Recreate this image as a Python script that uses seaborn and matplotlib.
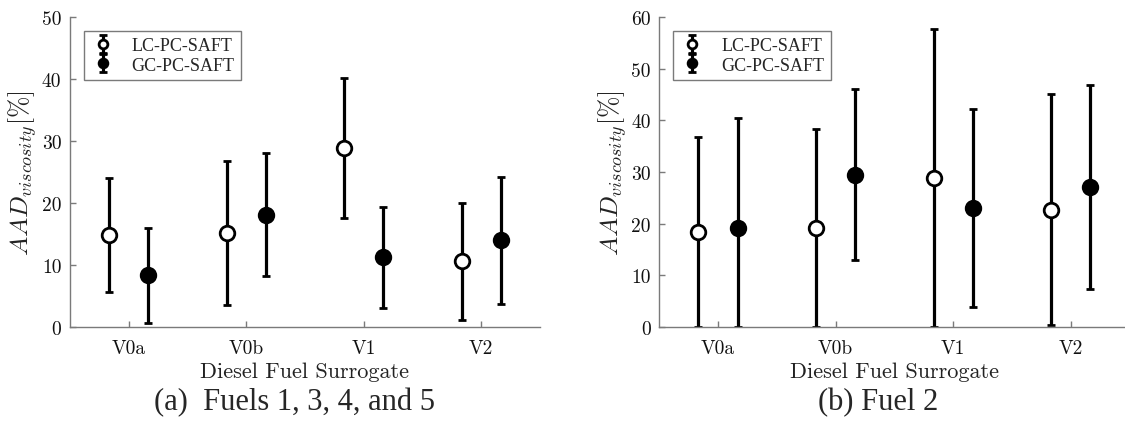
import numpy as np
import matplotlib
matplotlib.use("Agg")
import matplotlib.pyplot as plt
import seaborn as sns

# surrogates
cats = ['V0a', 'V0b', 'V1', 'V2']

# (a) Fuels 1, 3, 4, 5
lc_a = [14.9, 15.1, 28.9, 10.6]
lc_a_lo = [5.7, 3.5, 17.6, 1.1]
lc_a_hi = [24.0, 26.7, 40.2, 20.0]
gc_a = [8.3, 18.0, 11.2, 14.0]
gc_a_lo = [0.7, 8.2, 3.0, 3.7]
gc_a_hi = [15.9, 28.0, 19.4, 24.2]

# (b) Fuel 2
lc_b = [18.4, 19.1, 28.8, 22.7]
lc_b_lo = [0.0, 0.0, 0.0, 0.3]
lc_b_hi = [36.8, 38.4, 57.7, 45.1]
gc_b = [19.1, 29.5, 23.0, 27.1]
gc_b_lo = [0.0, 12.9, 3.9, 7.4]
gc_b_hi = [40.5, 46.1, 42.2, 46.8]

sns.set_style("white")
plt.rcParams['font.family'] = ['Liberation Serif', 'DejaVu Serif']
plt.rcParams['mathtext.fontset'] = 'cm'
plt.rcParams['axes.unicode_minus'] = False

fig = plt.figure(figsize=(11.25, 4.27), dpi=100)
ax1 = fig.add_axes([0.062, 0.232, 0.418, 0.726])
ax2 = fig.add_axes([0.586, 0.232, 0.418, 0.726])

axis_col = '#7a7a7a'
x = np.arange(1, len(cats) + 1)
off = 1 / 6


def panel(ax, lc, lc_lo, lc_hi, gc, gc_lo, gc_hi, ymax):
    lc = np.array(lc); gc = np.array(gc)
    ax.errorbar(x - off, lc, yerr=[lc - np.array(lc_lo), np.array(lc_hi) - lc],
                fmt='o', color='black', mfc='white', mec='black', ms=10.5, mew=2,
                elinewidth=2.3, capsize=3, capthick=2.3, label='LC-PC-SAFT')
    ax.errorbar(x + off, gc, yerr=[gc - np.array(gc_lo), np.array(gc_hi) - gc],
                fmt='o', color='black', mfc='black', mec='black', ms=10.5, mew=2,
                elinewidth=2.3, capsize=3, capthick=2.3, label='GC-PC-SAFT')
    ax.set_xlim(0.5, 4.5)
    ax.set_ylim(0, ymax)
    ax.set_xticks(x)
    ax.set_xticklabels(cats, fontfamily='cmr10')
    yt = np.arange(0, ymax + 1, 10)
    ax.set_yticks(yt)
    ax.set_yticklabels([str(v) for v in yt], fontfamily='cmr10')
    ax.tick_params(direction='in', length=4, width=1, color=axis_col,
                   labelsize=14, labelcolor='#111111', bottom=True, left=True)
    ax.tick_params(axis='x', pad=9)
    ax.tick_params(axis='y', pad=6)
    sns.despine(ax=ax)
    for s in ['left', 'bottom']:
        ax.spines[s].set_color(axis_col)
        ax.spines[s].set_linewidth(1)
    ax.set_xlabel('Diesel Fuel Surrogate', fontsize=16, fontfamily='cmr10',
                  color='#222222', labelpad=3)
    ax.set_ylabel(r'$AAD_{viscosity}[\%]$', fontsize=18.5, color='#222222', labelpad=2)
    leg = ax.legend(loc='upper left', bbox_to_anchor=(0.03, 0.956), fontsize=13,
                    frameon=True, fancybox=False, edgecolor=axis_col, framealpha=1,
                    markerscale=0.6, handlelength=1.4, handletextpad=0.9,
                    labelspacing=0.15, borderpad=0.35, borderaxespad=0)
    leg.get_frame().set_linewidth(1)


panel(ax1, lc_a, lc_a_lo, lc_a_hi, gc_a, gc_a_lo, gc_a_hi, 50)
panel(ax2, lc_b, lc_b_lo, lc_b_hi, gc_b, gc_b_lo, gc_b_hi, 60)

fig.text(0.262, 0.058, '(a)  Fuels 1, 3, 4, and 5', ha='center', va='center', fontsize=22)
fig.text(0.781, 0.058, '(b) Fuel 2', ha='center', va='center', fontsize=22)

fig.savefig('out.png', dpi=100)
